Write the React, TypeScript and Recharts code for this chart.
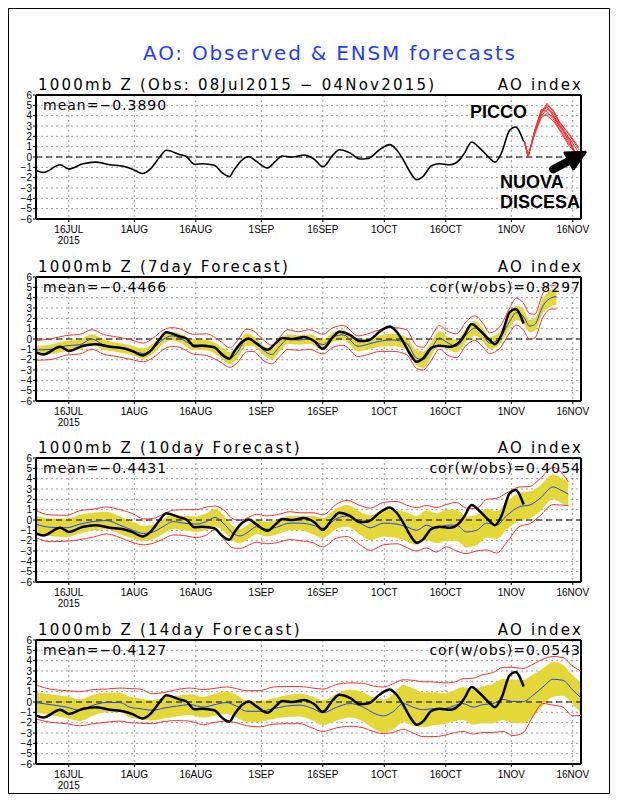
import React from "react";
import { ComposedChart, Line, Area, XAxis, YAxis, CartesianGrid, ReferenceLine } from "recharts";

// ---------- axes ----------
const xTickDays = [8, 24, 39, 55, 70, 85, 100, 116, 131]; // days since 08 Jul 2015
const xTickLabels = ["16JUL", "1AUG", "16AUG", "1SEP", "16SEP", "1OCT", "16OCT", "1NOV", "16NOV"];
const yTicks = [-6, -5, -4, -3, -2, -1, 0, 1, 2, 3, 4, 5, 6];

// ---------- observed AO ----------
const obsDays = [0, 1.8, 5.9, 8, 11.5, 14.4, 18, 21.3, 23.7, 26, 27.8, 30.2, 31.8, 35, 36.7, 38.7, 40.7, 43.5, 45.5, 47.2, 48.4, 50.4, 51.9, 53.7, 56.5, 58.5, 60.1, 62.6, 65.4, 67, 68, 70, 72.5, 74, 76.6, 79, 81, 84, 86.3, 88, 89.6, 91.2, 92.9, 94.4, 96.5, 98.5, 101, 103.4, 104.6, 106.3, 108.3, 110.7, 112, 113.6, 115.6, 117, 119];
const obsValues = [-1.3, -1.5, -0.75, -1.15, -0.65, -0.5, -0.75, -0.9, -1.2, -1.6, -1.2, 0, 0.65, 0.25, 0.05, -0.7, -0.65, -0.8, -1.55, -1.9, -1.2, -0.25, 0.05, -0.4, -1.05, -0.4, 0.1, 0, 0.2, 0, -0.25, -0.95, 0.2, 0.7, 0.4, -0.2, -0.15, 0.75, 1.2, 0.7, -0.25, -1.4, -2.2, -1.9, -0.85, -0.65, -0.75, -0.25, 0.4, 1.45, 0.85, -0.1, -0.5, 0.4, 2.6, 2.9, 1.5];

// ---------- ensemble members (panel 1) ----------
const ensDays = [119.2, 120.1, 121.7, 123.3, 124.7, 126.2, 127.8, 130.2, 132.5];
const ensM1 = [1.5, 0.1, 2.5, 4.3, 5.2, 4.4, 3.2, 1.8, 0.4];
const ensM2 = [1.5, 0.0, 2.4, 4.5, 4.9, 4.0, 3.0, 1.4, -0.2];
const ensM3 = [1.5, 0.1, 2.3, 4.0, 4.6, 4.3, 3.4, 2.1, 0.7];
const ensM4 = [1.5, 0.0, 2.6, 4.6, 4.4, 3.7, 2.7, 1.2, 0.0];
const ensM5 = [1.5, 0.1, 2.2, 3.8, 4.2, 3.9, 2.9, 1.6, -0.6];
const ensM6 = [1.5, 0.0, 2.5, 4.2, 5.0, 4.6, 3.3, 2.2, 0.9];
const ensM7 = [1.5, 0.1, 2.4, 4.1, 4.0, 3.5, 2.6, 1.0, 0.2];
const ensM8 = [1.5, 0.0, 2.5, 4.4, 4.8, 4.1, 3.1, 1.7, -0.4];
const ensMembers = [ensM1, ensM2, ensM3, ensM4, ensM5, ensM6, ensM7, ensM8];

// ---------- 7-day forecast ----------
const fc7Days = [0, 3.4, 7.5, 10.7, 13.6, 16.4, 19.7, 22.9, 26.2, 28.6, 31, 33.1, 35, 38.4, 41.6, 44.9, 47.3, 49, 51.4, 53, 55.4, 57.5, 59.5, 61.5, 64, 66.8, 70, 72.5, 75, 78.6, 80.6, 84, 87.1, 90.4, 92.9, 94.5, 96.1, 98.5, 100.2, 102.6, 105, 107.1, 109.1, 110.7, 113.2, 115.6, 117.2, 118.9, 120.5, 121.7, 123.7, 125.8, 127];
const fc7Mean = [-1.05, -1.0, -0.65, -0.55, 0, -0.55, -0.8, -1.05, -1.4, -0.9, -0.05, 0.3, 0.1, -0.55, -0.6, -1.2, -1.85, -1.35, -0.05, -0.2, -1.05, -1.5, -0.7, 0, -0.1, 0, -0.55, 0.2, 0.4, -0.7, -0.55, -0.2, -0.1, -0.4, -1.85, -2.0, -1.2, 0.1, -0.3, -0.7, 0.4, 1.05, 0.4, -0.4, 0.1, 1.7, 2.55, 2.2, 1.25, 1.4, 3.2, 4.0, 4.1];
const fc7Spread = [0.4, 0.45, 0.5, 0.5, 0.45, 0.5, 0.45, 0.45, 0.5, 0.5, 0.45, 0.4, 0.45, 0.5, 0.5, 0.55, 0.6, 0.6, 0.6, 0.5, 0.45, 0.5, 0.5, 0.45, 0.45, 0.45, 0.5, 0.45, 0.5, 0.5, 0.5, 0.55, 0.6, 0.6, 0.75, 0.8, 0.7, 0.65, 0.6, 0.6, 0.65, 0.7, 0.65, 0.6, 0.6, 0.65, 0.7, 0.7, 0.6, 0.6, 0.7, 0.8, 0.8];
const fc7MaxOff = [0.9, 1.0, 1.0, 1.0, 0.9, 1.0, 1.0, 1.0, 1.0, 1.0, 0.9, 0.8, 0.9, 1.0, 1.1, 1.0, 1.0, 1.1, 1.0, 1.0, 1.0, 0.9, 0.9, 0.9, 0.8, 0.9, 1.0, 0.9, 0.9, 1.0, 1.0, 1.1, 1.2, 1.3, 1.2, 1.2, 1.2, 1.2, 1.1, 1.2, 1.3, 1.2, 1.1, 1.0, 1.1, 1.3, 1.4, 1.3, 1.2, 1.0, 1.2, 1.2, 1.0];
const fc7MinOff = [1.0, 1.0, 0.9, 0.9, 1.0, 0.9, 0.9, 0.9, 0.8, 0.9, 1.0, 1.0, 0.9, 0.9, 1.0, 1.0, 0.9, 1.0, 1.2, 1.0, 1.0, 0.9, 1.0, 1.0, 1.0, 1.0, 0.9, 1.0, 1.0, 1.0, 1.0, 1.0, 1.1, 1.1, 1.0, 1.0, 1.1, 1.1, 1.2, 1.1, 1.0, 1.2, 1.2, 1.0, 1.0, 1.1, 1.2, 1.3, 1.3, 1.3, 1.1, 1.1, 1.2];

// ---------- 10-day forecast ----------
const fc10Days = [0, 3.4, 7.5, 10.7, 14, 17.2, 20.5, 23.7, 26.2, 28.6, 31, 33.5, 36, 39.2, 41.6, 43.7, 45.7, 48.1, 49.8, 51.8, 53.8, 56.3, 58.7, 62, 64.4, 67.6, 70, 73.4, 75.9, 79.1, 81.6, 84.8, 88.1, 90.4, 92.9, 95.3, 97.7, 100.2, 102.6, 105, 107.5, 110, 112.4, 114.8, 118.1, 120.5, 123, 126.2, 127.8, 129.9];
const fc10Mean = [-0.4, -0.7, -0.75, -0.4, -0.15, -0.05, -0.5, -1.0, -1.3, -1.15, -0.65, -0.15, -0.3, -0.4, -0.15, 0.25, -0.3, -1.3, -1.55, -1.15, -0.65, -0.9, -0.7, -0.3, -0.3, -0.5, -0.8, 0.15, 0.4, -0.3, -0.75, -0.3, -0.4, -0.65, -1.0, -0.5, -0.8, -0.5, -0.5, -1.15, -1.0, -0.3, -0.5, 0.4, 1.3, 1.45, 2.1, 3.2, 2.95, 2.5];
const fc10Spread = [0.8, 0.85, 0.9, 0.9, 0.85, 0.85, 0.85, 0.8, 0.75, 0.7, 0.7, 0.7, 0.7, 0.75, 0.8, 0.85, 0.8, 0.7, 0.7, 0.7, 0.7, 0.7, 0.7, 0.7, 0.7, 0.9, 0.95, 1.0, 1.05, 1.1, 1.2, 1.3, 1.35, 1.4, 1.4, 1.45, 1.45, 1.5, 1.5, 1.5, 1.45, 1.4, 1.35, 1.35, 1.35, 1.3, 1.25, 1.2, 1.2, 1.2];
const fc10MaxOff = [1.3, 1.2, 1.2, 1.3, 1.2, 1.3, 1.5, 1.6, 1.4, 1.3, 1.2, 1.1, 1.3, 1.4, 1.4, 1.1, 1.3, 1.4, 1.5, 1.4, 1.2, 1.3, 1.2, 1.1, 1.0, 1.2, 1.3, 1.4, 1.5, 1.7, 1.9, 2.0, 2.2, 2.1, 2.2, 1.9, 2.0, 2.0, 2.2, 2.3, 2.1, 2.3, 2.6, 2.2, 1.9, 1.8, 1.9, 1.9, 1.8, 1.2];
const fc10MinOff = [1.3, 1.4, 1.3, 1.5, 1.5, 1.3, 1.2, 1.2, 1.1, 1.1, 1.2, 1.3, 1.2, 1.3, 1.3, 1.2, 1.5, 1.4, 1.2, 1.3, 1.5, 1.4, 1.5, 1.6, 1.7, 1.7, 1.8, 1.9, 2.0, 2.1, 2.2, 2.1, 1.9, 2.0, 2.0, 2.2, 2.3, 2.1, 2.5, 2.1, 2.0, 2.6, 2.7, 2.6, 1.9, 1.8, 1.7, 1.7, 1.5, 1.1];

// ---------- 14-day forecast ----------
const fc14Days = [0, 3.4, 7.5, 10.7, 14, 17.2, 20.5, 22.9, 25.4, 28.6, 31, 34.3, 37.6, 40.8, 43.2, 46.5, 48.9, 51.4, 54.6, 57.9, 61.1, 64.4, 67.6, 70, 73.4, 76.6, 79.9, 82.3, 84.8, 87.1, 89.6, 92, 94.5, 96.9, 99.4, 101.8, 104.2, 106.7, 109.1, 111.5, 114, 116.4, 118.9, 121.3, 123.7, 126.2, 128.6, 131, 133];
const fc14Mean = [-0.05, -0.25, -0.5, -0.8, -0.3, -0.05, -0.05, -0.5, -0.65, -0.8, -0.6, -0.4, -0.25, -0.5, -0.3, -0.05, -0.4, -0.9, -0.9, -0.65, -0.4, -0.3, -0.65, -1.05, -0.5, -0.15, -0.5, -1.05, -1.35, -0.95, -0.15, -0.5, -0.75, -0.65, -0.65, -0.4, -0.15, -0.5, -0.25, -0.15, 0.25, 0.05, 0.05, 0.65, 1.45, 2.2, 2.1, 1.15, 0.4];
const fc14Spread = [1.0, 1.0, 1.05, 1.05, 1.0, 0.95, 0.95, 1.0, 1.0, 1.0, 1.0, 1.0, 1.0, 1.0, 1.05, 1.1, 1.1, 1.05, 1.0, 1.0, 1.05, 1.1, 1.15, 1.2, 1.3, 1.35, 1.4, 1.5, 1.6, 1.7, 1.8, 1.8, 1.7, 1.6, 1.5, 1.5, 1.6, 1.7, 1.8, 1.9, 2.0, 2.1, 2.1, 2.0, 1.8, 1.7, 1.5, 1.4, 1.5];
const fc14MaxOff = [1.7, 1.5, 1.6, 1.8, 1.5, 1.3, 1.4, 1.8, 1.9, 1.6, 1.5, 1.6, 1.6, 1.7, 1.6, 1.5, 1.7, 2.0, 2.0, 2.1, 1.9, 1.8, 2.0, 2.3, 2.2, 2.0, 2.3, 2.6, 2.8, 2.7, 2.3, 2.6, 2.7, 2.6, 2.5, 2.3, 2.4, 2.8, 2.9, 3.0, 3.1, 3.3, 3.2, 3.0, 2.7, 2.2, 2.2, 2.3, 2.6];
const fc14MinOff = [1.6, 1.7, 1.6, 1.5, 1.8, 1.9, 1.8, 1.5, 1.4, 1.3, 1.3, 1.4, 1.6, 1.7, 1.7, 1.8, 1.6, 1.4, 1.5, 1.5, 1.7, 1.8, 1.9, 1.8, 2.0, 2.2, 2.0, 1.8, 1.7, 2.0, 2.5, 2.5, 2.6, 2.7, 2.6, 2.6, 2.7, 2.6, 2.7, 2.8, 3.1, 3.3, 3.0, 2.0, 1.6, 2.5, 2.6, 2.5, 1.7];

// ---------- texts ----------
const titleText = "AO: Observed & ENSM forecasts";
const panelTitles = [
  "1000mb Z (Obs: 08Jul2015 \u2212 04Nov2015)",
  "1000mb Z (7day Forecast)",
  "1000mb Z (10day Forecast)",
  "1000mb Z (14day Forecast)",
];
const meanTexts = ["mean=\u22120.3890", "mean=\u22120.4466", "mean=\u22120.4431", "mean=\u22120.4127"];
const corTexts = ["", "cor(w/obs)=0.8297", "cor(w/obs)=0.4054", "cor(w/obs)=0.0543"];

// ---------- layout ----------
const PLOT_TOPS = [95, 277, 458, 640];
const PLOT_H = 124;
const MT = 4;
const XH = 30;
const GFONT = "'DejaVu Sans', sans-serif";
const TFONT = "'Liberation Sans Narrow', 'Liberation Sans', Arial, sans-serif";
const YELLOW = "#e3d838";
const RED = "#ff3030";
const BLUE = "#2244ff";

const obsTable = obsDays.map((d, i) => ({ d, v: obsValues[i] }));
const ensTables = ensMembers.map((m) => ensDays.map((d, i) => ({ d, v: m[i] })));

function pick(arr: number[], i: number) {
  return arr[i] ?? arr[arr.length - 1];
}
function buildFc(days: number[], mean: number[], spread: number[], maxOff: number[], minOff: number[]) {
  return days.map((d, i) => {
    const m = pick(mean, i);
    const s = pick(spread, i);
    return { d, mean: m, band: [m - s, m + s], hi: m + pick(maxOff, i), lo: m - pick(minOff, i) };
  });
}
const fc7Table = buildFc(fc7Days, fc7Mean, fc7Spread, fc7MaxOff, fc7MinOff);
const fc10Table = buildFc(fc10Days, fc10Mean, fc10Spread, fc10MaxOff, fc10MinOff);
const fc14Table = buildFc(fc14Days, fc14Mean, fc14Spread, fc14MaxOff, fc14MinOff);

const fmtY = (v: number) => (v < 0 ? "\u2212" + -v : String(v));

const XTick = (props: any) => {
  const { x, y, payload } = props;
  const i = xTickDays.indexOf(payload.value);
  return (
    <g>
      <text x={x} y={y} dy={8.5} textAnchor="middle" fontSize={10} fontFamily={TFONT} fill="#000">
        {xTickLabels[i]}
      </text>
      {i === 0 && (
        <text x={x} y={y} dy={19.5} textAnchor="middle" fontSize={10} fontFamily={TFONT} fill="#000">
          2015
        </text>
      )}
    </g>
  );
};

const ArrowShape = (p: any) => {
  const { x1, y1, x2, y2 } = p;
  if ([x1, y1, x2, y2].some((v) => typeof v !== "number" || isNaN(v))) return <g />;
  const dx = x2 - x1;
  const dy = y2 - y1;
  const len = Math.hypot(dx, dy) || 1;
  const ux = dx / len;
  const uy = dy / len;
  const hl = 18;
  const hw = 9;
  const bx = x2 - ux * hl;
  const by = y2 - uy * hl;
  return (
    <g>
      <line x1={x1} y1={y1} x2={bx + ux * 2} y2={by + uy * 2} stroke="#000" strokeWidth={8} strokeLinecap="round" />
      <polygon points={`${x2},${y2} ${bx - uy * hw},${by + ux * hw} ${bx + uy * hw},${by - ux * hw}`} fill="#000" stroke="#000" strokeWidth={3} strokeLinejoin="round" />
    </g>
  );
};

function Panel({ top, data, children }: { top: number; data: any[]; children: React.ReactNode }) {
  return (
    <div style={{ position: "absolute", left: 0, top: top - 8 - MT }}>
      <ComposedChart width={602} height={MT + PLOT_H + XH} data={data} margin={{ top: MT, right: 29, bottom: 0, left: 8 }}>
        <CartesianGrid stroke="#9a9a9a" strokeDasharray="2 3" />
        <XAxis
          type="number"
          dataKey="d"
          domain={[0, 133]}
          ticks={xTickDays}
          interval={0}
          allowDataOverflow
          height={XH}
          tick={XTick}
          tickSize={3}
          tickMargin={2}
          axisLine={{ stroke: "#000", strokeWidth: 2 }}
          tickLine={{ stroke: "#000" }}
        />
        <YAxis
          type="number"
          domain={[-6, 6]}
          ticks={yTicks}
          interval={0}
          allowDataOverflow
          width={20}
          tickSize={3}
          tickMargin={1}
          tickFormatter={fmtY}
          tick={{ fontSize: 10, fill: "#000", fontFamily: TFONT }}
          axisLine={{ stroke: "#000", strokeWidth: 2 }}
          tickLine={{ stroke: "#000" }}
        />
        <ReferenceLine y={6} stroke="#000" strokeWidth={2} />
        <ReferenceLine x={133} stroke="#000" strokeWidth={2} />
        {children}
      </ComposedChart>
    </div>
  );
}

function fcSeries(table: any[]) {
  return [
    <Area key="band" data={table} dataKey="band" type="monotone" stroke="none" fill={YELLOW} fillOpacity={1} isAnimationActive={false} activeDot={false} />,
    <ReferenceLine key="zero" y={0} stroke="#000" strokeDasharray="6 4" />,
    <Line key="hi" data={table} dataKey="hi" type="monotone" stroke={RED} strokeWidth={1} dot={false} activeDot={false} isAnimationActive={false} />,
    <Line key="lo" data={table} dataKey="lo" type="monotone" stroke={RED} strokeWidth={1} dot={false} activeDot={false} isAnimationActive={false} />,
    <Line key="mean" data={table} dataKey="mean" type="monotone" stroke={BLUE} strokeWidth={1} dot={false} activeDot={false} isAnimationActive={false} />,
    <Line key="obs" data={obsTable} dataKey="v" type="monotone" stroke="#000" strokeWidth={2.5} dot={false} activeDot={false} isAnimationActive={false} />,
  ];
}

export default function App() {
  return (
    <div style={{ position: "relative", width: 602, height: 786 }}>
      <div style={{ position: "absolute", left: 0, top: 0, width: 602, height: 786, boxSizing: "border-box", border: "1px solid #000" }} />

      <Panel top={PLOT_TOPS[0]} data={obsTable}>
        <ReferenceLine y={0} stroke="#000" strokeDasharray="6 4" />
        {ensTables.map((t, k) => (
          <Line key={"ens" + k} data={t} dataKey="v" type="linear" stroke={RED} strokeWidth={1} dot={false} activeDot={false} isAnimationActive={false} />
        ))}
        <Line data={obsTable} dataKey="v" type="monotone" stroke="#000" strokeWidth={1.6} dot={false} activeDot={false} isAnimationActive={false} />
        <ReferenceLine
          segment={[{ x: 126.2, y: -1.2 }, { x: 134, y: 0.45 }]}
          ifOverflow="visible"
          shape={ArrowShape}
        />
      </Panel>
      <Panel top={PLOT_TOPS[1]} data={fc7Table}>{fcSeries(fc7Table)}</Panel>
      <Panel top={PLOT_TOPS[2]} data={fc10Table}>{fcSeries(fc10Table)}</Panel>
      <Panel top={PLOT_TOPS[3]} data={fc14Table}>{fcSeries(fc14Table)}</Panel>

      <svg width={618} height={800} style={{ position: "absolute", left: -8, top: -8, pointerEvents: "none" }}>
        <text x={143} y={60} fontSize={20} letterSpacing={1.8} fill="#1f3dff" fontFamily={GFONT}>
          {titleText}
        </text>
        {PLOT_TOPS.map((t, i) => (
          <g key={i}>
            <text x={38} y={t - 5.5} fontSize={15} letterSpacing={2.2} fill="#000" fontFamily={GFONT}>
              {panelTitles[i]}
            </text>
            <text x={583} y={t - 5.5} fontSize={15} letterSpacing={2.2} fill="#000" fontFamily={GFONT} textAnchor="end">
              AO index
            </text>
            <text x={43} y={t + 15} fontSize={14} letterSpacing={1} fill="#000" fontFamily={GFONT}>
              {meanTexts[i]}
            </text>
            {corTexts[i] && (
              <text x={581} y={t + 15} fontSize={14} letterSpacing={1} fill="#000" fontFamily={GFONT} textAnchor="end">
                {corTexts[i]}
              </text>
            )}
          </g>
        ))}
        <g fontFamily="'Liberation Sans', Arial, sans-serif" fontWeight="bold" fontSize={18} fill="#000">
          <text x={470} y={118}>PICCO</text>
          <text x={500} y={188}>NUOVA</text>
          <text x={500} y={208}>DISCESA</text>
        </g>
      </svg>
    </div>
  );
}
